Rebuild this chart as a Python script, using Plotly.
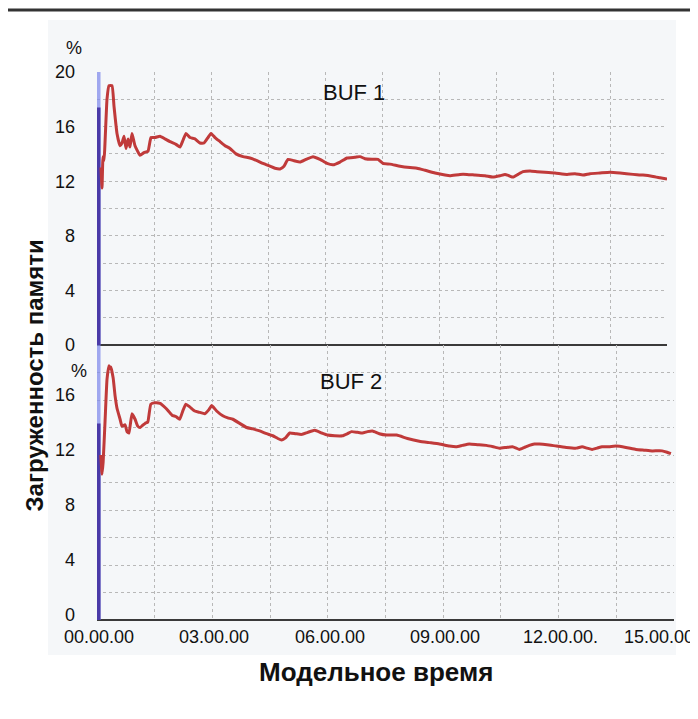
import plotly.graph_objects as go

# ---------------- data ----------------
# model time in minutes, memory load in %
t_buf1 = [0.105, 0.132, 0.158, 0.184, 0.263, 0.316, 0.395, 0.447, 0.526, 0.605, 0.658, 0.711, 0.763,
          0.816, 0.868, 0.921, 1.0, 1.132, 1.237, 1.342, 1.421, 1.526, 1.658, 1.789, 1.921, 2.079,
          2.184, 2.263, 2.342, 2.447, 2.579, 2.711, 2.816, 2.921, 3.0, 3.105, 3.237, 3.368, 3.5,
          3.658, 3.842, 4.026, 4.211, 4.368, 4.553, 4.684, 4.816, 4.921, 5.026, 5.184, 5.342, 5.5,
          5.684, 5.868, 6.053, 6.211, 6.395, 6.579, 6.789, 6.921, 7.053, 7.237, 7.395, 7.526, 7.711,
          7.974, 8.237, 8.421, 8.632, 8.895, 9.158, 9.289, 9.553, 9.737, 9.947, 10.211, 10.421,
          10.605, 10.737, 10.842, 10.947, 11.079, 11.211, 11.395, 11.579, 11.789, 12.053, 12.368,
          12.579, 12.789, 12.974, 13.237, 13.5, 13.763, 14.105, 14.368, 14.632, 14.816, 15.0]
buf1 = [13.0, 11.5, 13.8, 13.5, 18.0, 19.0, 19.0, 17.5, 15.5, 14.6, 14.8, 15.3, 14.4,
        15.1, 14.5, 15.5, 14.6, 13.9, 14.1, 14.2, 15.2, 15.2, 15.3, 15.1, 14.9, 14.7,
        14.5, 15.0, 15.5, 15.2, 15.1, 14.8, 14.8, 15.2, 15.5, 15.2, 14.9, 14.6, 14.4,
        14.0, 13.8, 13.7, 13.5, 13.3, 13.1, 12.95, 12.9, 13.1, 13.6, 13.5, 13.4, 13.6,
        13.8, 13.6, 13.3, 13.2, 13.4, 13.7, 13.75, 13.8, 13.65, 13.6, 13.6, 13.3, 13.25,
        13.1, 13.0, 12.95, 12.8, 12.6, 12.45, 12.4, 12.5, 12.5, 12.45, 12.4, 12.3,
        12.4, 12.5, 12.4, 12.3, 12.5, 12.7, 12.75, 12.7, 12.65, 12.6, 12.5,
        12.55, 12.45, 12.55, 12.6, 12.65, 12.6, 12.5, 12.45, 12.35, 12.25, 12.15]

t_buf2 = [0.10, 0.13, 0.16, 0.21, 0.26, 0.31, 0.34, 0.36, 0.42, 0.47, 0.52, 0.60, 0.65, 0.73, 0.78,
          0.83, 0.91, 0.99, 1.06, 1.12, 1.25, 1.32, 1.40, 1.51, 1.64, 1.79, 1.95, 2.05, 2.15, 2.23,
          2.31, 2.41, 2.54, 2.67, 2.80, 2.91, 2.98, 3.11, 3.27, 3.40, 3.53, 3.71, 3.89, 4.05, 4.23,
          4.41, 4.57, 4.70, 4.80, 4.90, 5.01, 5.16, 5.32, 5.48, 5.66, 5.84, 5.99, 6.18, 6.38, 6.51,
          6.62, 6.77, 6.90, 7.03, 7.16, 7.34, 7.53, 7.79, 8.07, 8.38, 8.64, 8.90, 9.16, 9.34, 9.50,
          9.68, 9.89, 10.12, 10.30, 10.46, 10.64, 10.80, 10.90, 10.98, 11.11, 11.24, 11.37, 11.50,
          11.70, 11.94, 12.20, 12.46, 12.61, 12.74, 12.87, 13.00, 13.13, 13.31, 13.49, 13.75, 14.01,
          14.22, 14.43, 14.69, 14.82, 14.92]
buf2 = [12.0, 10.6, 11.5, 14.5, 17.5, 18.5, 18.3, 18.4, 17.6, 16.3, 15.4, 14.6, 14.1, 14.2, 13.7,
        13.6, 15.0, 14.6, 14.1, 14.0, 14.3, 14.4, 15.7, 15.8, 15.75, 15.4, 14.9, 14.8, 14.6, 15.2,
        15.7, 15.5, 15.2, 15.1, 15.0, 15.3, 15.6, 15.2, 14.85, 14.7, 14.6, 14.3, 14.0, 13.9, 13.75,
        13.55, 13.4, 13.2, 13.1, 13.25, 13.6, 13.55, 13.5, 13.65, 13.8, 13.6, 13.45, 13.4, 13.4, 13.55,
        13.7, 13.65, 13.6, 13.7, 13.75, 13.55, 13.45, 13.45, 13.2, 13.0, 12.9, 12.8, 12.65, 12.6, 12.7,
        12.8, 12.75, 12.7, 12.6, 12.5, 12.55, 12.6, 12.5, 12.4, 12.55, 12.7, 12.8, 12.8,
        12.75, 12.65, 12.55, 12.5, 12.6, 12.5, 12.4, 12.5, 12.6, 12.6, 12.65, 12.55, 12.4,
        12.35, 12.3, 12.3, 12.2, 12.1]

# initial level bar at the start of the run
start_t = [0.04, 0.04]
start_full = [0, 20]
start_buf1 = [0, 17.4]
start_buf2 = [0, 14.3]

y_ticks_top = ["0", "", "4", "", "8", "", "12", "", "16", "", "20"]
y_ticks_bottom = ["0", "", "4", "", "8", "", "12", "", "16", "", ""]
y_tick_vals = [0, 2, 4, 6, 8, 10, 12, 14, 16, 18, 20]
x_grid_vals = [0, 1.5, 3, 4.5, 6, 7.5, 9, 10.5, 12, 13.5, 15]
x_label_vals = [0, 3, 6, 9, 12, 15]
x_label_text = ["00.00.00", "03.00.00", "06.00.00", "09.00.00", "12.00.00.", "15.00.00"]

# ---------------- layout helpers ----------------
# the page body adds an 8px margin, so the figure is 8px smaller and offset
OFF = 8
W, H = 698 - OFF, 719 - OFF
def fx(px):
    return (px - OFF) / W
def fy(py):
    return 1 - (py - OFF) / H

FONT = "Liberation Sans, Arial, sans-serif"
RED = "#c03a3a"
LIGHT_BLUE = "rgba(130,140,235,0.75)"
DARK_BLUE = "#4a3aa8"
GRID = "#b8b8b8"

fig = go.Figure()
for xa, ya, dark, t, v in [("x", "y", start_buf1, t_buf1, buf1), ("x2", "y2", start_buf2, t_buf2, buf2)]:
    fig.add_trace(go.Scatter(x=start_t, y=start_full, mode="lines", xaxis=xa, yaxis=ya,
                             line=dict(color=LIGHT_BLUE, width=4), showlegend=False, hoverinfo="skip"))
    fig.add_trace(go.Scatter(x=start_t, y=dark, mode="lines", xaxis=xa, yaxis=ya,
                             line=dict(color=DARK_BLUE, width=4), showlegend=False, hoverinfo="skip"))
    fig.add_trace(go.Scatter(x=t, y=v, mode="lines", xaxis=xa, yaxis=ya,
                             line=dict(color=RED, width=3, shape="spline", smoothing=0.4),
                             showlegend=False))

common_x = dict(range=[0, 15], tickmode="array", tickvals=x_grid_vals, showticklabels=False,
                showgrid=True, gridcolor=GRID, griddash="3px,3px", gridwidth=1,
                zeroline=False, showline=False, ticks="", automargin=False)
common_y = dict(range=[0, 20], tickmode="array", tickvals=y_tick_vals,
                showgrid=True, gridcolor=GRID, griddash="3px,3px", gridwidth=1,
                zeroline=True, zerolinecolor="#3a3a3a", zerolinewidth=2, showline=False,
                ticks="", ticklabelstandoff=21, automargin=False,
                tickfont=dict(family=FONT, size=18, color="#111"))

fig.update_layout(
    width=W, height=H,
    margin=dict(l=0, r=0, t=0, b=0, pad=0, autoexpand=False),
    paper_bgcolor="white", plot_bgcolor="white",
    font=dict(family=FONT, color="#111"),
    xaxis=dict(domain=[fx(97), fx(667)], anchor="y", **common_x),
    yaxis=dict(domain=[fy(345), fy(72)], anchor="x", ticktext=y_ticks_top, **common_y),
    xaxis2=dict(domain=[fx(97), fx(674)], anchor="y2", **common_x),
    yaxis2=dict(domain=[fy(620), fy(345)], anchor="x2", ticktext=y_ticks_bottom,
                ticklabelshift=-5, **common_y),
)

shapes = [
    dict(type="rect", xref="paper", yref="paper", x0=fx(48), x1=fx(676), y0=fy(655), y1=fy(20),
         fillcolor="#f5f7f9", line=dict(width=0), layer="below"),
    dict(type="line", xref="paper", yref="paper", x0=0, x1=1, y0=fy(10), y1=fy(10),
         line=dict(color="#333", width=3)),
]
fig.update_layout(shapes=shapes)

ann = []
for v, txt in zip(x_label_vals, x_label_text):
    last = v == x_label_vals[-1]
    ann.append(dict(x=v, y=fy(637), xref="x2", yref="paper", text=txt, showarrow=False,
                    xanchor="right" if last else "center", yanchor="middle",
                    xshift=22 if last else 2,
                    font=dict(family=FONT, size=18, color="#111")))
ann += [
    dict(x=fx(64), y=fy(36), xref="paper", yref="paper", text="%", showarrow=False,
         font=dict(family=FONT, size=18, color="#111")),
    dict(x=fx(69), y=fy(371), xref="paper", yref="paper", text="%", showarrow=False,
         font=dict(family=FONT, size=18, color="#111")),
    dict(x=fx(354), y=fy(78), xref="paper", yref="paper", text="BUF 1", showarrow=False,
         font=dict(family=FONT, size=22, color="#111")),
    dict(x=fx(351), y=fy(381), xref="paper", yref="paper", text="BUF 2", showarrow=False,
         font=dict(family=FONT, size=22, color="#111")),
    dict(x=fx(18), y=fy(376), xref="paper", yref="paper", text="<b>Загруженность памяти</b>",
         showarrow=False, textangle=-90, font=dict(family=FONT, size=24, color="#111")),
    dict(x=fx(376), y=fy(689), xref="paper", yref="paper", text="<b>Модельное время</b>",
         showarrow=False, font=dict(family=FONT, size=26, color="#111")),
]
fig.update_layout(annotations=ann)

fig.write_html("out.html")
